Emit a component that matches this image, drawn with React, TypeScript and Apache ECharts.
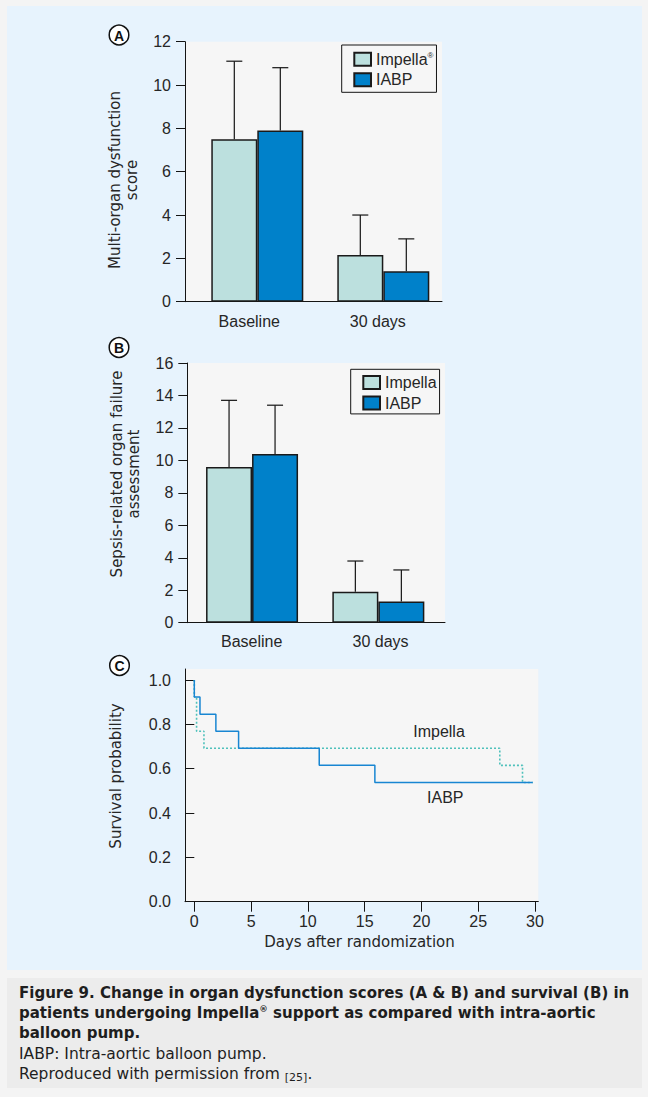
import React, { useEffect, useRef } from 'react';
import * as echarts from 'echarts';

// ---------- data ----------
const categories = ['Baseline', '30 days'];

// Panel A: Multi-organ dysfunction score (mean, mean + SD)
const modsImpella = [7.5, 2.15];
const modsImpellaUpper = [11.1, 4.0];
const modsIabp = [7.9, 1.4];
const modsIabpUpper = [10.8, 2.9];

// Panel B: Sepsis-related organ failure assessment (mean, mean + SD)
const sofaImpella = [9.6, 1.9];
const sofaImpellaUpper = [13.7, 3.8];
const sofaIabp = [10.4, 1.3];
const sofaIabpUpper = [13.4, 3.25];

// Panel C: Kaplan-Meier survival
const iabpDays = [0, 0, 0.5, 1.9, 3.9, 11, 15.9, 29.8];
const iabpSurv = [1, 0.923, 0.846, 0.769, 0.692, 0.615, 0.538, 0.538];
const impellaDays = [0, 0, 0.2, 0.85, 26.9, 28.9, 29.8];
const impellaSurv = [1, 0.923, 0.769, 0.692, 0.615, 0.538, 0.538];

// ---------- styles ----------
const F = 'DejaVu Sans';
const H = 'Liberation Sans';
const TXT = '#262626';
const AX = '#141414';
const IMP_COLOR = '#bce0de';
const IABP_COLOR = '#0081ca';
const BAR_W = 46;
const CAP = 8;

const labelStyle = { fontFamily: H, fontSize: 16, color: TXT };

function errorSeries(name: string, axis: number, means: number[], uppers: number[], shift: number) {
  return {
    type: 'custom',
    name,
    xAxisIndex: axis,
    yAxisIndex: axis,
    z: 4,
    silent: true,
    data: means.map((m, i) => [i, m, uppers[i]]),
    renderItem: (_params: any, api: any) => {
      const base = api.coord([api.value(0), api.value(1)]);
      const top = api.coord([api.value(0), api.value(2)]);
      const x = base[0] + shift;
      const st = { stroke: AX, lineWidth: 1.2 };
      return {
        type: 'group',
        children: [
          { type: 'line', shape: { x1: x, y1: base[1], x2: x, y2: top[1] }, style: st },
          { type: 'line', shape: { x1: x - CAP, y1: top[1], x2: x + CAP, y2: top[1] }, style: st },
        ],
      };
    },
  };
}

function barSeries(name: string, axis: number, data: number[], color: string) {
  return {
    type: 'bar',
    name,
    xAxisIndex: axis,
    yAxisIndex: axis,
    data,
    barWidth: BAR_W,
    barGap: '0%',
    z: 3,
    itemStyle: { color, borderColor: '#1a1a1a', borderWidth: 1.5 },
  };
}

function frameGrid(left: number, top: number, width: number, height: number) {
  return {
    left, top, width, height,
    show: true,
    backgroundColor: '#f6f6f6',
    borderWidth: 0,
    containLabel: false,
    outerBoundsMode: 'none',
  };
}
function dataGrid(left: number, top: number, width: number, height: number) {
  return { left, top, width, height, show: false, containLabel: false, outerBoundsMode: 'none' };
}

const axisLine = { show: true, lineStyle: { color: AX, width: 1 } };
const tick = (len: number) => ({ show: true, length: len, inside: false, lineStyle: { color: AX, width: 1 } });

function legend(names: string[], left: number, top: number, padding: number[]) {
  return {
    data: names,
    orient: 'vertical',
    left, top,
    padding,
    itemWidth: 16.7,
    itemHeight: 13,
    itemGap: 4.6,
    icon: 'rect',
    selectedMode: false,
    borderColor: AX,
    borderWidth: 1,
    borderRadius: 0,
    backgroundColor: 'transparent',
    formatter: (n: string) => n.replace('®', '{sup|®}'),
    textStyle: {
      fontFamily: H, fontSize: 16, color: TXT,
      rich: { sup: { fontFamily: H, fontSize: 8, lineHeight: 8, verticalAlign: 'top', color: TXT } },
    },
  };
}

function circleLabel(letter: string, cx: number, cy: number) {
  return [
    { type: 'circle', shape: { cx, cy, r: 9.8 }, style: { fill: '#ffffff', stroke: '#111', lineWidth: 1.5 }, z: 10 },
    {
      type: 'text', x: cx, y: cy + 0.5, z: 11,
      style: { text: letter, fontFamily: H, fontWeight: 'bold', fontSize: 14, fill: '#111', align: 'center', verticalAlign: 'middle' },
    },
  ];
}

function vText(text: string, x: number, y: number) {
  return {
    type: 'text', x, y, rotation: Math.PI / 2, z: 10,
    style: { text, fontFamily: F, fontSize: 15, lineHeight: 17, fill: TXT, align: 'center', verticalAlign: 'middle' },
  };
}
function hText(text: string, x: number, y: number, font: string, size: number) {
  return {
    type: 'text', x, y, z: 10,
    style: { text, fontFamily: font, fontSize: size, fill: TXT, align: 'center', verticalAlign: 'middle' },
  };
}
function caption(text: string, y: number, bold: boolean) {
  return {
    type: 'text', x: 19, y, z: 10,
    style: {
      text,
      fontFamily: F,
      fontWeight: bold ? 'bold' : 'normal',
      fontSize: bold ? 15 : 15.5,
      lineHeight: 17,
      fill: '#1e1e1e',
      align: 'left',
      verticalAlign: 'middle',
      rich: {
        sup: { fontFamily: F, fontWeight: 'bold', fontSize: 8.5, lineHeight: 8.5, verticalAlign: 'top', fill: '#1e1e1e' },
        small: { fontFamily: F, fontSize: 11, lineHeight: 14, verticalAlign: 'bottom', fill: '#1e1e1e' },
      },
    },
  };
}

export default function App() {
  const ref = useRef<HTMLDivElement>(null);

  useEffect(() => {
    document.body.style.margin = '0';
    const chart = echarts.init(ref.current!, undefined, { renderer: 'svg' });

    const option: any = {
      animation: false,
      backgroundColor: '#f4f4f4',
      grid: [
        frameGrid(185, 41.7, 257, 260),
        dataGrid(194.3, 41.7, 252, 260),
        frameGrid(187.3, 363, 257.7, 259.7),
        dataGrid(188.9, 363, 252.6, 259.7),
        frameGrid(185, 669, 353.3, 232.7),
        dataGrid(194.3, 680, 340.7, 221.7),
      ],
      xAxis: [
        { gridIndex: 0, type: 'category', data: categories, axisLine, axisTick: { show: false }, axisLabel: { ...labelStyle, margin: 12, interval: 0 }, splitLine: { show: false } },
        { gridIndex: 1, type: 'category', data: categories, show: false },
        { gridIndex: 2, type: 'category', data: categories, axisLine, axisTick: { show: false }, axisLabel: { ...labelStyle, margin: 11, interval: 0 }, splitLine: { show: false } },
        { gridIndex: 3, type: 'category', data: categories, show: false },
        { gridIndex: 4, type: 'value', min: 0, max: 1, axisLine, axisTick: { show: false }, axisLabel: { show: false }, splitLine: { show: false } },
        { gridIndex: 5, type: 'value', min: 0, max: 30, interval: 5, axisLine: { show: false }, axisTick: tick(10), axisLabel: { ...labelStyle, margin: 12 }, splitLine: { show: false } },
      ],
      yAxis: [
        { gridIndex: 0, type: 'value', min: 0, max: 12, interval: 2, axisLine, axisTick: tick(9), axisLabel: { ...labelStyle, margin: 14 }, splitLine: { show: false } },
        { gridIndex: 1, type: 'value', min: 0, max: 12, show: false, splitLine: { show: false } },
        { gridIndex: 2, type: 'value', min: 0, max: 16, interval: 2, axisLine, axisTick: tick(9), axisLabel: { ...labelStyle, margin: 14 }, splitLine: { show: false } },
        { gridIndex: 3, type: 'value', min: 0, max: 16, show: false, splitLine: { show: false } },
        { gridIndex: 4, type: 'value', min: 0, max: 1, axisLine, axisTick: { show: false }, axisLabel: { show: false }, splitLine: { show: false } },
        {
          gridIndex: 5, type: 'value', min: 0, max: 1, interval: 0.2, offset: 9.3,
          axisLine: { show: false }, axisTick: tick(9),
          axisLabel: { ...labelStyle, margin: 14, formatter: (v: number) => v.toFixed(1) },
          splitLine: { show: false },
        },
      ],
      legend: [
        legend(['Impella®', 'IABP'], 341.7, 45, [6.2, 3, 4.5, 11.6]),
        legend(['Impella', 'IABP'], 350.7, 369.3, [5.2, 3, 2.8, 11.6]),
      ],
      series: [
        barSeries('Impella®', 1, modsImpella, IMP_COLOR),
        barSeries('IABP', 1, modsIabp, IABP_COLOR),
        errorSeries('errA1', 1, modsImpella, modsImpellaUpper, -BAR_W / 2),
        errorSeries('errA2', 1, modsIabp, modsIabpUpper, BAR_W / 2),
        barSeries('Impella', 3, sofaImpella, IMP_COLOR),
        barSeries('IABP', 3, sofaIabp, IABP_COLOR),
        errorSeries('errB1', 3, sofaImpella, sofaImpellaUpper, -BAR_W / 2),
        errorSeries('errB2', 3, sofaIabp, sofaIabpUpper, BAR_W / 2),
        {
          type: 'line', name: 'Impella survival', xAxisIndex: 5, yAxisIndex: 5, step: 'end', symbol: 'none', z: 3,
          data: impellaDays.map((d, i) => [d, impellaSurv[i]]),
          lineStyle: { color: '#4fc1bb', width: 1.6, type: [2, 2] },
        },
        {
          type: 'line', name: 'IABP survival', xAxisIndex: 5, yAxisIndex: 5, step: 'end', symbol: 'none', z: 4,
          data: iabpDays.map((d, i) => [d, iabpSurv[i]]),
          lineStyle: { color: '#1886d2', width: 1.5 },
        },
      ],
      graphic: [
        { type: 'rect', z: -10, shape: { x: 7, y: 6, width: 635, height: 964 }, style: { fill: '#e7f3fd' } },
        { type: 'rect', z: -10, shape: { x: 7, y: 978, width: 635, height: 110 }, style: { fill: '#ececec' } },
        ...circleLabel('A', 119, 35),
        ...circleLabel('B', 119, 347.5),
        ...circleLabel('C', 119.5, 665.5),
        vText('Multi-organ dysfunction\nscore', 123.3, 180),
        vText('Sepsis-related organ failure\nassessment', 125, 474),
        vText('Survival probability', 115.7, 776),
        hText('Days after randomization', 359.5, 941.7, F, 15),
        hText('Impella', 439, 731.7, H, 16),
        hText('IABP', 445.3, 797.7, H, 16),
        caption('Figure 9. Change in organ dysfunction scores (A & B) and survival (B) in', 993, true),
        caption('patients undergoing Impella{sup|®} support as compared with intra-aortic', 1013.3, true),
        caption('balloon pump.', 1033, true),
        caption('IABP: Intra-aortic balloon pump.', 1054.3, false),
        caption('Reproduced with permission from {small|[25]}.', 1074, false),
      ],
    };

    chart.setOption(option);
    return () => chart.dispose();
  }, []);

  return (
    <div
      ref={ref}
      style={{ position: 'fixed', left: 0, top: 0, width: '648px', height: '1097px' }}
    />
  );
}
